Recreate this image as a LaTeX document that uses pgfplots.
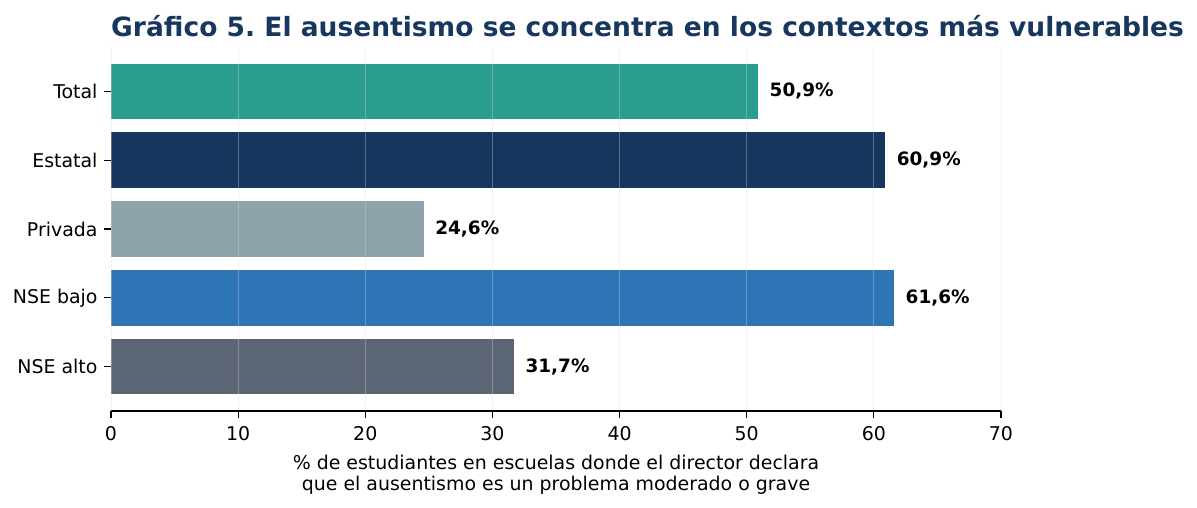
\documentclass[border=0pt]{standalone}
\usepackage{pgfplots}
\pgfplotsset{compat=1.18}
\usepackage{fontspec}
\setmainfont{DejaVu Sans}
\frenchspacing
\definecolor{cteal}{HTML}{2A9D8F}
\definecolor{cnavy}{HTML}{18375E}
\definecolor{cgray}{HTML}{8FA3AD}
\definecolor{cblue}{HTML}{2E75B5}
\definecolor{cslate}{HTML}{5B6574}
\definecolor{ctitle}{HTML}{18375E}
\begin{document}
\begin{tikzpicture}
\useasboundingbox (0,0) rectangle (1197bp,508bp);
\begin{axis}[
  at={(111bp,97bp)}, anchor=south west,
  scale only axis, width=890bp, height=364bp,
  xmin=0, xmax=70, ymin=-0.64, ymax=4.64,
  y dir=reverse,
  xbar, bar width=0.8, bar shift=0pt,
  xtick={0,10,...,70},
  ytick={0,1,2,3,4},
  yticklabels={Total,Estatal,Privada,NSE bajo,NSE alto},
  axis lines*=left,
  y axis line style={draw=none},
  x axis line style={line width=1.2bp},
  tick align=outside, major tick length=7bp,
  tick style={black, line width=1.1bp},
  xmajorgrids, major grid style={gray!30, opacity=0.35, line width=1bp},
  axis on top,
  ticklabel style={font=\fontsize{19}{22}\selectfont},
  xticklabel style={yshift=-5bp},
  yticklabel style={xshift=-3bp},
  /pgf/number format/assume math mode=true,
  xlabel={\% de estudiantes en escuelas donde el director declara\\que el ausentismo es un problema moderado o grave},
  xlabel style={align=center, font=\fontsize{19}{21.5}\selectfont, yshift=-7bp},
  nodes near coords,
  point meta=explicit symbolic,
  every node near coord/.append style={font=\bfseries\fontsize{18.5}{22}\selectfont, anchor=west, xshift=8bp, black},
]
\addplot[fill=cteal, draw=none] coordinates {(50.9,0) [50,9\%]};
\addplot[fill=cnavy, draw=none] coordinates {(60.9,1) [60,9\%]};
\addplot[fill=cgray, draw=none] coordinates {(24.6,2) [24,6\%]};
\addplot[fill=cblue, draw=none] coordinates {(61.6,3) [61,6\%]};
\addplot[fill=cslate, draw=none] coordinates {(31.7,4) [31,7\%]};
\end{axis}
\node[anchor=base west, inner sep=0pt, text=ctitle, font=\bfseries\fontsize{26.6}{32}\selectfont] at (111bp,471bp) {Gráfico 5. El ausentismo se concentra en los contextos más vulnerables};
\end{tikzpicture}
\end{document}
